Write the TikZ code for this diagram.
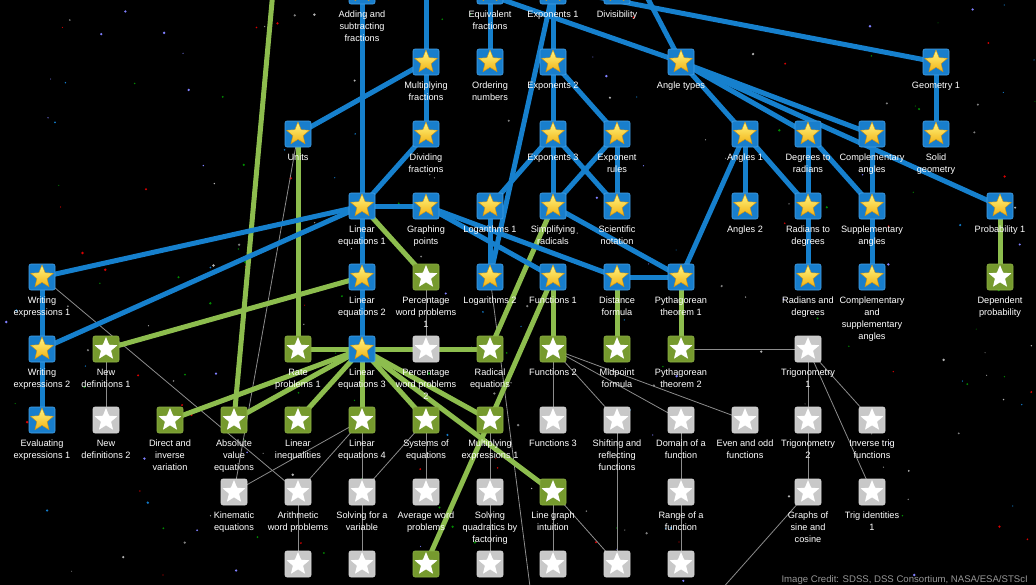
\documentclass[tikz,border=0pt]{standalone}
\usepackage{fontspec}
\setmainfont{Liberation Sans}
\usetikzlibrary{shapes.geometric}
\pgfdeclarelayer{bg}\pgfdeclarelayer{edges}
\pgfsetlayers{bg,edges,main}
\definecolor{boxblue}{RGB}{24,126,204}
\definecolor{boxblueedge}{RGB}{70,160,230}
\definecolor{lineblue}{RGB}{22,128,205}
\definecolor{boxgreen}{RGB}{118,154,46}
\definecolor{boxgreenedge}{RGB}{140,175,70}
\definecolor{linegreen}{RGB}{141,189,78}
\definecolor{boxgray}{RGB}{200,200,200}
\definecolor{boxgrayedge}{RGB}{215,215,215}
\definecolor{linegray}{RGB}{140,140,140}
\definecolor{staryl}{RGB}{255,246,130}
\definecolor{staror}{RGB}{242,178,20}
\definecolor{starrim}{RGB}{205,145,20}
\definecolor{credit}{RGB}{150,150,150}
\tikzset{
  boxB/.style={rectangle, rounded corners=2, minimum size=26, inner sep=0, fill=boxblue, draw=boxblueedge, line width=0.6},
  boxG/.style={rectangle, rounded corners=2, minimum size=26, inner sep=0, fill=boxgreen, draw=boxgreenedge, line width=0.6},
  boxW/.style={rectangle, rounded corners=2, minimum size=26, inner sep=0, fill=boxgray, draw=boxgrayedge, line width=0.6},
  starB/.style={star, star points=5, star point ratio=2.25, minimum size=24, inner sep=0, top color=staryl, bottom color=staror, draw=starrim, line width=0.4},
  starG/.style={star, star points=5, star point ratio=2.25, minimum size=24, inner sep=0, fill=white},
  starW/.style={star, star points=5, star point ratio=2.25, minimum size=24, inner sep=0, fill=white},
  lbl/.style={anchor=north, align=center, inner sep=0, text=white, font=\fontsize{9.2}{12}\selectfont},
  eB/.style={draw=lineblue, line width=5},
  eG/.style={draw=linegreen, line width=5},
  eW/.style={draw=linegray, line width=0.8},
}
\newcommand\skn[5]{%
  \node[box#4] (#1) at (#2,#3) {};
  \node[star#4] at (#1.center) {};
  \node[lbl] at (#2,#3+19) {\rule{0pt}{7pt}#5};}
\newcommand\eb[2]{\draw[eB] (#1.center) -- (#2.center);}
\newcommand\eg[2]{\draw[eG] (#1.center) -- (#2.center);}
\newcommand\ew[2]{\draw[eW] (#1.center) -- (#2.center);}
\begin{document}
\begin{tikzpicture}[x=1pt,y=-1pt]
\useasboundingbox (0,0) rectangle (1036,584);
\clip (0,0) rectangle (1036,584);
\begin{pgfonlayer}{bg}
\fill[black] (-5,-5) rectangle (1041,589);
\pgfmathsetseed{4242}
\pgfmathdeclarerandomlist{starcols}{{white!70!black}{cyan!60!blue}{red!85!black}{green!55!black}{blue!50!white}{white!50!black}}
\foreach \i in {1,...,220}{
  \pgfmathsetmacro\xx{rnd*1036}
  \pgfmathsetmacro\yy{rnd*584}
  \pgfmathsetmacro\rr{0.5+rnd*0.9}
  \pgfmathrandomitem{\cc}{starcols}
  \fill[\cc] (\xx,\yy) circle (\rr);
}
\end{pgfonlayer}
% row 0
\skn{add}{362}{-9}{B}{Adding and\\subtracting\\fractions}
\skn{eqf}{490}{-9}{B}{Equivalent\\fractions}
\skn{exa}{553}{-9}{B}{Exponents 1}
\skn{divis}{617}{-9}{B}{Divisibility}
% row 1
\skn{mulf}{426}{62}{B}{Multiplying\\fractions}
\skn{ordn}{490}{62}{B}{Ordering\\numbers}
\skn{exb}{553}{62}{B}{Exponents 2}
\skn{angt}{681}{62}{B}{Angle types}
\skn{geoa}{936}{62}{B}{Geometry 1}
% row 2
\skn{units}{298}{134}{B}{Units}
\skn{divf}{426}{134}{B}{Dividing\\fractions}
\skn{exc}{553}{134}{B}{Exponents 3}
\skn{exr}{617}{134}{B}{Exponent\\rules}
\skn{anga}{745}{134}{B}{Angles 1}
\skn{dtr}{808}{134}{B}{Degrees to\\radians}
\skn{compa}{872}{134}{B}{Complementary\\angles}
\skn{solid}{936}{134}{B}{Solid\\geometry}
% row 3
\skn{lea}{362}{206}{B}{Linear\\equations 1}
\skn{grp}{426}{206}{B}{Graphing\\points}
\skn{loga}{490}{206}{B}{Logarithms 1}
\skn{simp}{553}{206}{B}{Simplifying\\radicals}
\skn{sci}{617}{206}{B}{Scientific\\notation}
\skn{angb}{745}{206}{B}{Angles 2}
\skn{rtd}{808}{206}{B}{Radians to\\degrees}
\skn{supp}{872}{206}{B}{Supplementary\\angles}
\skn{proba}{1000}{206}{B}{Probability 1}
% row 4
\skn{wxa}{42}{277}{B}{Writing\\expressions 1}
\skn{leb}{362}{277}{B}{Linear\\equations 2}
\skn{pcta}{426}{277}{G}{Percentage\\word problems\\1}
\skn{logb}{490}{277}{B}{Logarithms 2}
\skn{funa}{553}{277}{B}{Functions 1}
\skn{dist}{617}{277}{B}{Distance\\formula}
\skn{pya}{681}{277}{B}{Pythagorean\\theorem 1}
\skn{rad}{808}{277}{B}{Radians and\\degrees}
\skn{csa}{872}{277}{B}{Complementary\\and\\supplementary\\angles}
\skn{dep}{1000}{277}{G}{Dependent\\probability}
% row 5
\skn{wxb}{42}{349}{B}{Writing\\expressions 2}
\skn{nda}{106}{349}{G}{New\\definitions 1}
\skn{rate}{298}{349}{G}{Rate\\problems 1}
\skn{lec}{362}{349}{B}{Linear\\equations 3}
\skn{pctb}{426}{349}{W}{Percentage\\word problems\\2}
\skn{radeq}{490}{349}{G}{Radical\\equations}
\skn{funb}{553}{349}{G}{Functions 2}
\skn{mid}{617}{349}{G}{Midpoint\\formula}
\skn{pyb}{681}{349}{G}{Pythagorean\\theorem 2}
\skn{tra}{808}{349}{W}{Trigonometry\\1}
% row 6
\skn{eva}{42}{420}{B}{Evaluating\\expressions 1}
\skn{ndb}{106}{420}{W}{New\\definitions 2}
\skn{dvar}{170}{420}{G}{Direct and\\inverse\\variation}
\skn{absv}{234}{420}{G}{Absolute\\value\\equations}
\skn{lineq}{298}{420}{G}{Linear\\inequalities}
\skn{led}{362}{420}{G}{Linear\\equations 4}
\skn{sys}{426}{420}{G}{Systems of\\equations}
\skn{mulx}{490}{420}{G}{Multiplying\\expressions 1}
\skn{func}{553}{420}{W}{Functions 3}
\skn{shift}{617}{420}{W}{Shifting and\\reflecting\\functions}
\skn{dom}{681}{420}{W}{Domain of a\\function}
\skn{eo}{745}{420}{W}{Even and odd\\functions}
\skn{trb}{808}{420}{W}{Trigonometry\\2}
\skn{inv}{872}{420}{W}{Inverse trig\\functions}
% row 7
\skn{kin}{234}{492}{W}{Kinematic\\equations}
\skn{arith}{298}{492}{W}{Arithmetic\\word problems}
\skn{svar}{362}{492}{W}{Solving for a\\variable}
\skn{avg}{426}{492}{W}{Average word\\problems}
\skn{squad}{490}{492}{W}{Solving\\quadratics by\\factoring}
\skn{lgi}{553}{492}{G}{Line graph\\intuition}
\skn{range}{681}{492}{W}{Range of a\\function}
\skn{gsc}{808}{492}{W}{Graphs of\\sine and\\cosine}
\skn{tid}{872}{492}{W}{Trig identities\\1}
% row 8
\node[boxW] (ba) at (298,564) {}; \node[starW] at (ba.center) {};
\node[boxW] (bb) at (362,564) {}; \node[starW] at (bb.center) {};
\node[boxG] (bc) at (426,564) {}; \node[starG] at (bc.center) {};
\node[boxW] (bd) at (490,564) {}; \node[starW] at (bd.center) {};
\node[boxW] (be) at (553,564) {}; \node[starW] at (be.center) {};
\node[boxW] (bf) at (617,564) {}; \node[starW] at (bf.center) {};
\node[boxW] (bg) at (681,564) {}; \node[starW] at (bg.center) {};
% off-picture ends
\coordinate (tmul) at (426,-80);
\coordinate (tang) at (446,-20);
\coordinate (tangb) at (636,-24);
\coordinate (tgeo) at (540,-14);
\coordinate (tabs) at (274,-20);
\coordinate (blog) at (533,610);
\coordinate (bgsc) at (681,635);
\node[anchor=base east, inner sep=0, text=credit, font=\fontsize{9.6}{11}\selectfont] (cred) at (1028,582) {Image Credit: SDSS, DSS Consortium, NASA/ESA/STScI};
\begin{pgfonlayer}{edges}
% thin grey
\ew{pcta}{pctb}\ew{nda}{ndb}\ew{wxa}{arith}\ew{units}{kin}
\ew{led}{kin}\ew{led}{arith}\ew{led}{svar}\ew{sys}{svar}\ew{sys}{avg}
\ew{mulx}{squad}\ew{funb}{func}\ew{funb}{shift}\ew{funb}{dom}\ew{funb}{eo}
\ew{pyb}{tra}\ew{tra}{trb}\ew{tra}{inv}\ew{tra}{tid}\ew{trb}{gsc}
\ew{gsc}{bgsc}\ew{dom}{range}\ew{range}{bg}\ew{shift}{bf}
\ew{lgi}{be}\ew{lgi}{bf}\ew{squad}{bd}\ew{svar}{bb}\ew{arith}{ba}
\ew{logb}{blog}
% green
\eg{units}{rate}\eg{lea}{pcta}\eg{leb}{nda}\eg{rate}{lec}
\eg{lec}{dvar}\eg{lec}{absv}\eg{lec}{lineq}\eg{lec}{led}\eg{lec}{sys}
\eg{lec}{mulx}\eg{lec}{lgi}\eg{lec}{radeq}\eg{simp}{radeq}
\eg{funa}{funb}\eg{funa}{mulx}\eg{mulx}{bc}\eg{dist}{mid}\eg{pya}{pyb}
\eg{proba}{dep}\eg{tabs}{absv}
% blue
\eb{add}{lea}\eb{tmul}{mulf}\eb{mulf}{units}\eb{mulf}{divf}\eb{divf}{lea}
\eb{eqf}{ordn}\eb{exa}{exb}\eb{exa}{logb}\eb{tang}{angt}\eb{tangb}{angt}
\eb{tgeo}{geoa}\eb{exb}{exc}\eb{exb}{exr}\eb{exc}{simp}\eb{exc}{sci}
\eb{exc}{loga}\eb{exr}{sci}\eb{exr}{simp}\eb{loga}{logb}
\eb{lea}{wxa}\eb{lea}{wxb}\eb{lea}{grp}\eb{lea}{leb}
\eb{grp}{funa}\eb{grp}{dist}\eb{simp}{pya}\eb{dist}{pya}
\eb{angt}{anga}\eb{angt}{dtr}\eb{angt}{compa}\eb{angt}{proba}
\eb{anga}{angb}\eb{anga}{rtd}\eb{anga}{pya}\eb{dtr}{rtd}\eb{dtr}{supp}
\eb{compa}{supp}\eb{rtd}{rad}\eb{supp}{csa}\eb{geoa}{solid}
\eb{wxa}{wxb}\eb{wxb}{eva}\eb{leb}{lec}
\end{pgfonlayer}
\end{tikzpicture}
\end{document}
